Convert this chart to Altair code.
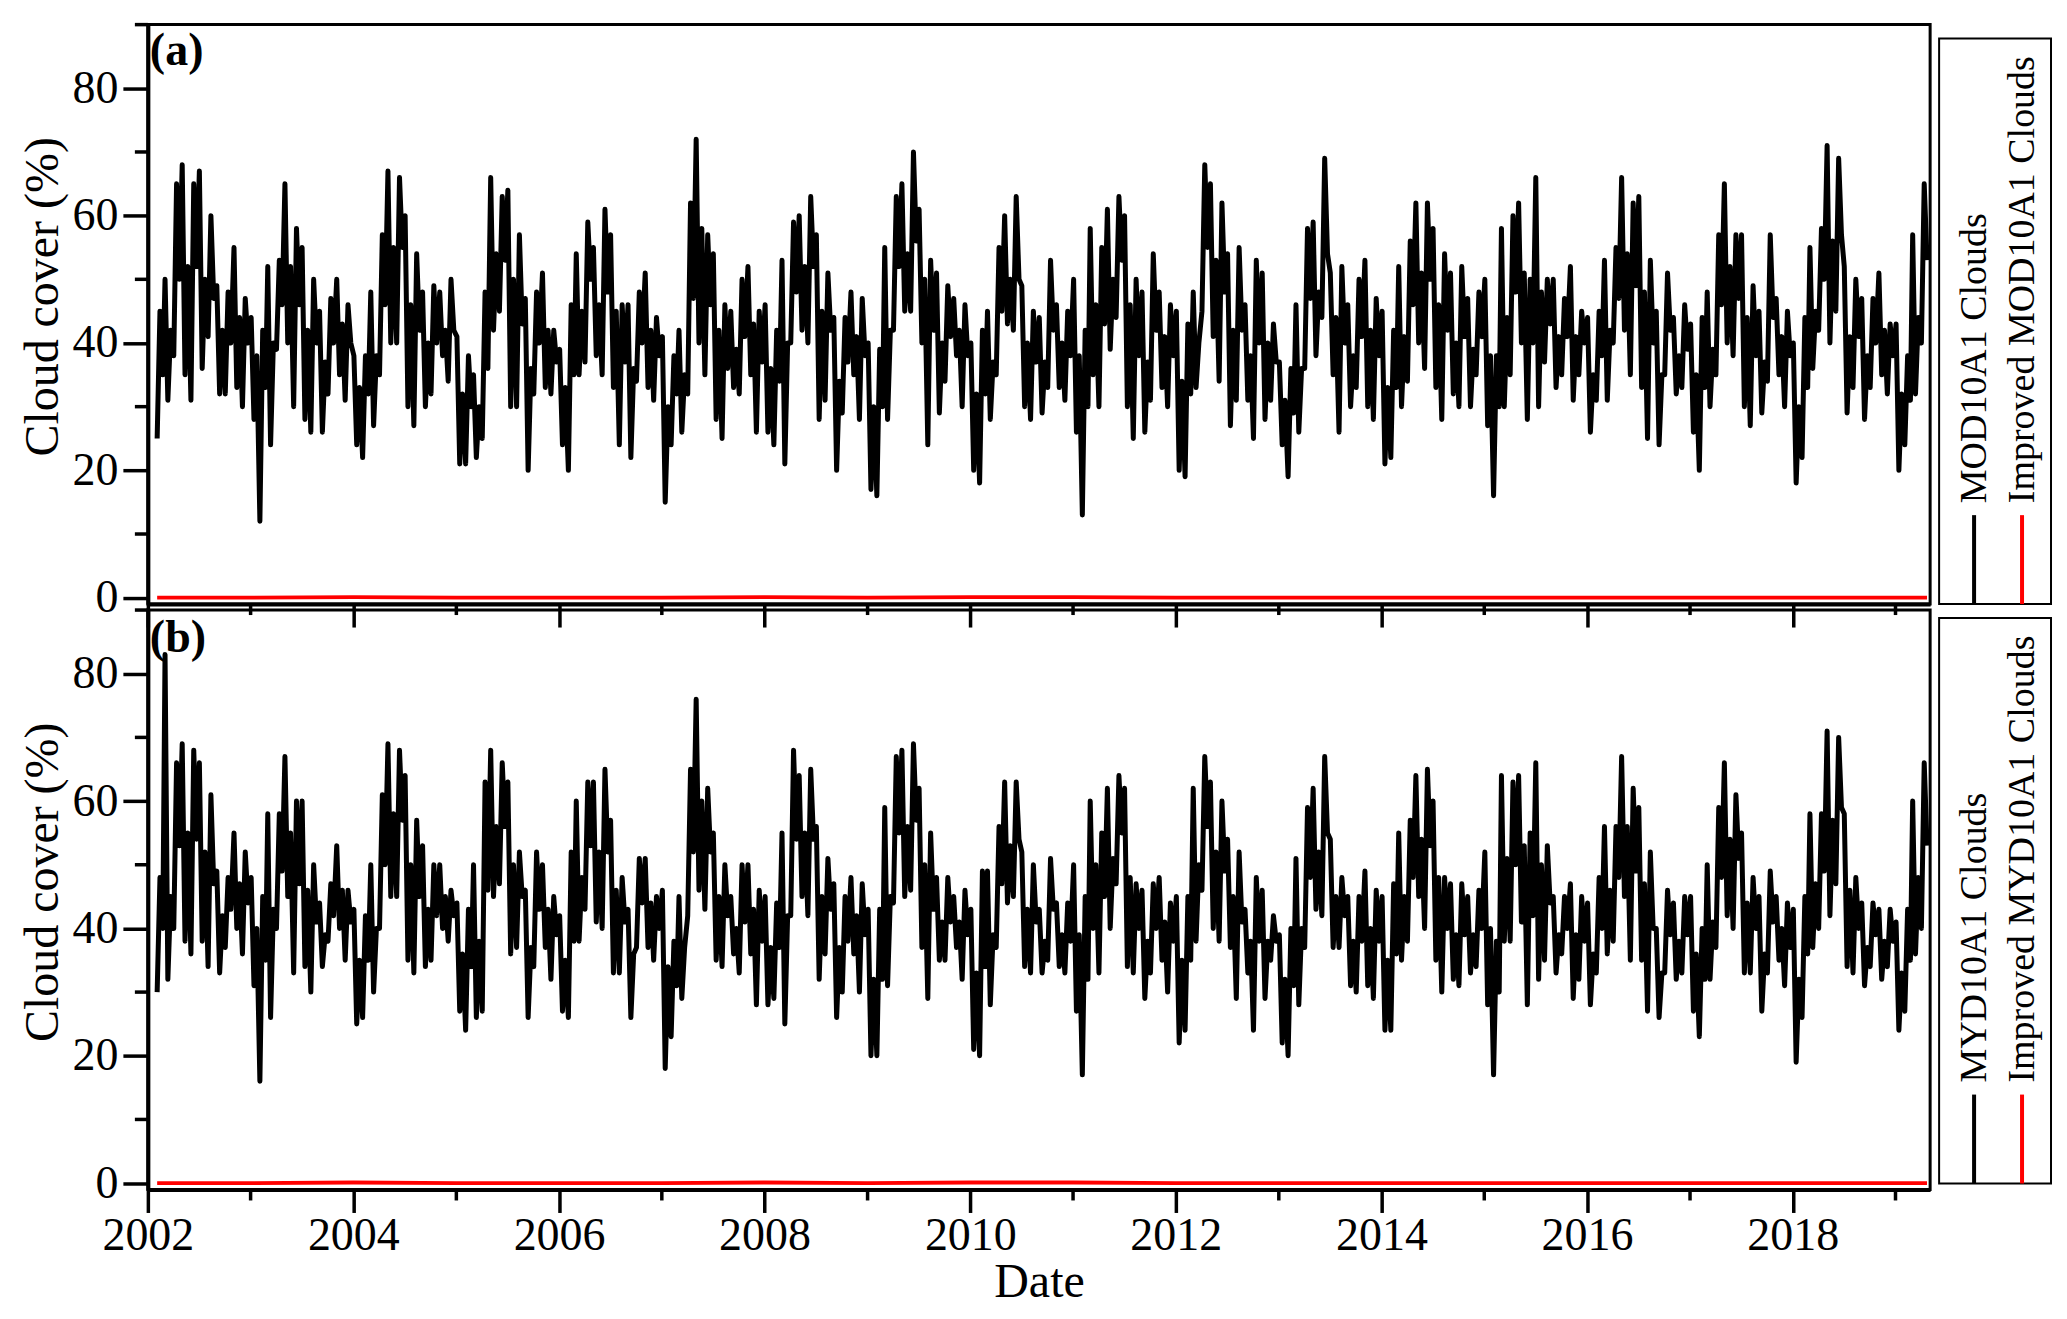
import altair as alt
import pandas as pd

FONT = "Liberation Serif"
W, H = 1784, 580

# ---------------- axis ticks ----------------
MAJOR_YEARS = list(range(2002, 2019, 2))
MINOR_YEARS = list(range(2003, 2020, 2))
Y_MAJOR = [0, 20, 40, 60, 80]
Y_MINOR = [10, 30, 50, 70, 90]

# months covered by the series (Feb 2002 .. Apr 2019)
MONTHS = pd.date_range("2002-02-01", "2019-04-01", freq="MS")

# ---------------- panel (a): MOD10A1 Clouds (%), per month: high, low and typical (core) level ----------------
MOD_HI = [
    45, 50, 65, 68, 65, 67, 60, 49, 48, 55, 47,            # 2002 Feb-Dec
    44, 42, 52, 53, 65, 58, 55, 50, 45, 47, 50, 46,        # 2003
    38, 38, 48, 57, 67, 66, 60, 54, 48, 49, 48, 50,        # 2004
    41, 38, 35, 48, 66, 63, 64, 57, 47, 48, 51, 42,        # 2005
    39, 46, 54, 59, 55, 61, 57, 46, 46, 48, 51, 44,        # 2006
    41, 38, 42, 62, 72, 57, 54, 46, 45, 50, 52, 45,        # 2007
    46, 42, 53, 59, 60, 63, 57, 51, 44, 44, 48, 47,        # 2008
    40, 39, 55, 63, 65, 70, 61, 53, 51, 49, 47, 46,        # 2009
    40, 42, 45, 55, 60, 63, 49, 45, 44, 53, 46, 45,        # 2010
    50, 42, 58, 55, 61, 63, 60, 50, 48, 54, 48, 46,        # 2011
    45, 43, 48, 68, 65, 62, 54, 55, 46, 53, 51, 43,        # 2012
    37, 36, 46, 58, 59, 69, 51, 52, 46, 50, 53, 47,        # 2013
    45, 42, 52, 56, 62, 62, 58, 54, 51, 52, 47, 48,        # 2014
    50, 38, 58, 60, 62, 50, 66, 50, 50, 47, 52, 45,        # 2015
    44, 45, 53, 55, 66, 62, 63, 53, 45, 51, 44, 46,        # 2016
    43, 44, 48, 57, 65, 57, 57, 49, 45, 57, 47, 45,        # 2017
    40, 44, 55, 58, 71, 69, 52, 50, 47, 47, 51, 43,        # 2018
    43, 38, 57, 65,                                        # 2019 Jan-Apr
]
MOD_LO = [
    25, 31, 38, 35, 31, 36, 41, 32, 32, 33, 30,
    28, 12, 24, 39, 40, 30, 28, 26, 26, 32, 35, 31,
    24, 22, 27, 35, 40, 40, 30, 27, 30, 32, 38, 34,
    21, 21, 22, 25, 42, 45, 30, 30, 20, 32, 33, 32,
    24, 20, 35, 37, 38, 35, 33, 24, 22, 34, 33, 31,
    15, 24, 26, 32, 40, 35, 28, 25, 33, 32, 35, 26,
    26, 24, 21, 40, 42, 40, 28, 31, 20, 29, 35, 28,
    17, 16, 28, 42, 45, 45, 40, 24, 29, 34, 38, 30,
    20, 18, 28, 35, 43, 42, 30, 28, 29, 33, 33, 31,
    26, 13, 35, 30, 39, 44, 30, 25, 26, 31, 33, 30,
    20, 19, 33, 45, 41, 34, 27, 31, 31, 25, 28, 31,
    24, 19, 26, 36, 38, 44, 35, 26, 30, 33, 30, 28,
    21, 22, 30, 34, 40, 36, 33, 28, 32, 30, 30, 35,
    27, 16, 30, 35, 40, 28, 30, 37, 33, 35, 31, 35,
    26, 31, 31, 40, 42, 35, 33, 25, 24, 35, 32, 33,
    26, 20, 30, 35, 40, 38, 30, 27, 29, 34, 35, 30,
    18, 22, 36, 42, 40, 45, 29, 33, 28, 33, 35, 32,
    20, 24, 32, 40,
]
MOD_CORE = [
    35, 42, 50, 52, 52, 50, 47, 42, 40, 44, 40,
    38, 33, 40, 46, 52, 46, 42, 40, 37, 40, 43, 40,
    33, 32, 38, 46, 55, 55, 46, 42, 40, 40, 42, 42,
    32, 30, 30, 36, 54, 53, 50, 43, 36, 40, 42, 37,
    33, 35, 45, 50, 46, 48, 45, 37, 36, 40, 42, 38,
    30, 32, 35, 47, 58, 46, 42, 36, 39, 41, 43, 37,
    36, 34, 40, 48, 52, 52, 45, 42, 34, 37, 41, 38,
    30, 30, 42, 52, 54, 56, 50, 42, 40, 41, 42, 38,
    32, 32, 37, 45, 50, 50, 40, 37, 37, 42, 40, 38,
    38, 30, 46, 43, 50, 53, 46, 38, 37, 42, 41, 38,
    34, 32, 40, 55, 53, 48, 42, 42, 38, 40, 40, 37,
    31, 29, 36, 47, 48, 54, 44, 40, 38, 41, 42, 38,
    33, 33, 41, 46, 51, 50, 46, 42, 40, 41, 39, 41,
    38, 30, 44, 48, 51, 40, 48, 43, 41, 41, 41, 40,
    35, 38, 42, 47, 54, 49, 48, 40, 35, 42, 38, 39,
    35, 33, 39, 46, 52, 47, 44, 38, 37, 44, 41, 38,
    30, 33, 45, 50, 56, 57, 41, 41, 38, 40, 42, 38,
    32, 31, 44, 53,
]

# ---------------- panel (b): MYD10A1 Clouds ----------------
MYD_HI = [
    48, 83, 66, 69, 68, 66, 61, 49, 48, 55, 52,            # 2002 Feb-Dec
    48, 45, 58, 58, 67, 60, 60, 50, 44, 47, 53, 46,        # 2003
    43, 42, 50, 61, 69, 68, 64, 57, 53, 50, 50, 46,        # 2004
    44, 43, 50, 63, 68, 66, 63, 52, 46, 52, 50, 45,        # 2005
    42, 52, 60, 63, 63, 65, 57, 48, 43, 51, 51, 45,        # 2006
    46, 38, 45, 65, 76, 62, 55, 50, 45, 50, 50, 46,        # 2007
    45, 44, 55, 68, 64, 65, 56, 51, 47, 45, 48, 47,        # 2008
    43, 43, 59, 67, 68, 69, 62, 55, 48, 48, 45, 46,        # 2009
    43, 49, 49, 56, 63, 63, 52, 50, 43, 51, 44, 44,        # 2010
    50, 45, 60, 55, 62, 64, 62, 47, 46, 47, 48, 44,        # 2011
    45, 45, 62, 67, 63, 60, 54, 52, 43, 48, 46, 42,        # 2012
    39, 40, 51, 59, 62, 67, 54, 48, 45, 45, 49, 46,        # 2013
    45, 47, 55, 57, 64, 65, 60, 48, 47, 47, 45, 46,        # 2014
    52, 38, 64, 63, 64, 55, 66, 53, 45, 45, 47, 45,        # 2015
    44, 48, 56, 56, 67, 62, 59, 52, 40, 46, 44, 45,        # 2016
    45, 40, 50, 59, 66, 61, 55, 48, 45, 49, 45, 44,        # 2017
    43, 45, 58, 58, 71, 70, 58, 48, 44, 44, 43, 43,        # 2018
    41, 43, 60, 66,                                        # 2019 Jan-Apr
]
MYD_LO = [
    30, 32, 40, 38, 36, 38, 34, 33, 37, 40, 36,
    31, 16, 26, 40, 45, 33, 34, 30, 34, 38, 40, 35,
    25, 26, 30, 40, 45, 45, 35, 33, 34, 35, 40, 38,
    27, 24, 26, 27, 45, 47, 36, 37, 26, 34, 37, 32,
    27, 26, 38, 43, 41, 40, 33, 33, 26, 37, 37, 35,
    18, 23, 29, 42, 46, 43, 35, 34, 36, 33, 36, 28,
    28, 29, 25, 42, 45, 42, 32, 36, 26, 30, 36, 30,
    20, 20, 31, 44, 45, 46, 37, 29, 35, 35, 37, 32,
    21, 20, 28, 37, 44, 45, 34, 33, 33, 35, 34, 33,
    27, 17, 40, 33, 40, 47, 34, 33, 29, 33, 35, 30,
    22, 24, 38, 46, 40, 38, 37, 29, 33, 24, 29, 35,
    22, 20, 28, 37, 43, 42, 37, 37, 31, 30, 31, 29,
    24, 24, 35, 38, 45, 40, 35, 30, 32, 31, 33, 34,
    28, 17, 38, 38, 41, 28, 32, 35, 33, 36, 29, 32,
    28, 33, 36, 38, 45, 35, 35, 27, 26, 33, 32, 33,
    27, 23, 32, 37, 42, 40, 33, 33, 27, 33, 35, 31,
    19, 26, 37, 40, 42, 47, 34, 33, 31, 34, 32, 34,
    24, 27, 36, 40,
]
MYD_CORE = [
    40, 45, 53, 55, 54, 52, 47, 42, 43, 47, 44,
    40, 35, 43, 49, 55, 47, 46, 41, 39, 42, 46, 41,
    35, 35, 40, 50, 58, 57, 50, 45, 43, 42, 45, 42,
    36, 34, 38, 46, 56, 56, 50, 45, 37, 43, 43, 39,
    35, 38, 48, 53, 52, 52, 46, 41, 36, 44, 44, 40,
    34, 31, 37, 52, 60, 52, 45, 42, 40, 41, 43, 38,
    37, 37, 42, 54, 55, 54, 45, 43, 37, 38, 42, 39,
    32, 32, 45, 55, 56, 57, 50, 43, 41, 41, 41, 39,
    33, 34, 39, 47, 53, 54, 43, 41, 38, 43, 39, 38,
    39, 32, 50, 45, 51, 55, 48, 40, 38, 40, 41, 38,
    35, 35, 50, 56, 52, 49, 45, 41, 38, 38, 38, 38,
    32, 31, 40, 48, 52, 55, 45, 42, 38, 38, 40, 38,
    35, 36, 45, 48, 54, 53, 48, 40, 39, 39, 39, 40,
    40, 30, 51, 50, 53, 42, 50, 44, 39, 40, 39, 38,
    36, 40, 46, 48, 56, 49, 47, 40, 33, 39, 38, 39,
    36, 32, 41, 48, 54, 51, 44, 40, 36, 41, 40, 37,
    32, 36, 47, 49, 57, 59, 46, 40, 37, 39, 38, 38,
    33, 35, 48, 53,
]

# ---------------- improved (red) series: flat at ~0 ----------------
IMPROVED_DATES = ["2002-02-03"] + [f"{y}-01-01" for y in range(2003, 2020)] + ["2019-04-23"]
IMPROVED_MOD = [0.0, 0.0, 0.1, 0.0, 0.0, 0.0, 0.1, 0.0, 0.1, 0.1, 0.0, 0.0, 0.0, 0.0, 0.0, 0.0, 0.0, 0.0, 0.0]
IMPROVED_MYD = [0.0, 0.0, 0.1, 0.0, 0.0, 0.0, 0.1, 0.0, 0.1, 0.1, 0.0, 0.0, 0.0, 0.0, 0.0, 0.0, 0.0, 0.0, 0.0]

LEGEND_A = ["MOD10A1 Clouds", "Improved MOD10A1 Clouds"]
LEGEND_B = ["MYD10A1 Clouds", "Improved MYD10A1 Clouds"]
SERIES_COLORS = ["black", "#ff0000"]

assert len(MOD_HI) == len(MOD_LO) == len(MOD_CORE) == len(MONTHS)
assert len(MYD_HI) == len(MYD_LO) == len(MYD_CORE) == len(MONTHS)


def series_frame(hi, lo, core):
    """Three readings per month; the order of high/low alternates month to month."""
    rows = []
    for i, (m, h, l, c) in enumerate(zip(MONTHS, hi, lo, core)):
        first, second = (l, h) if i % 2 == 0 else (h, l)
        rows.append({"date": m + pd.Timedelta(days=2), "value": first})
        rows.append({"date": m + pd.Timedelta(days=12), "value": second})
        rows.append({"date": m + pd.Timedelta(days=22), "value": c})
    return pd.DataFrame(rows)


x_scale = alt.Scale(domain=[alt.DateTime(year=2002, month=1, date=1),
                            alt.DateTime(year=2019, month=5, date=4)], nice=False)
y_scale = alt.Scale(domain=[-1, 90], nice=False, zero=False)

major_x_values = [alt.DateTime(year=y, month=1, date=1) for y in MAJOR_YEARS]


def make_panel(hi, lo, core, improved, tag, legend, show_x, box_top, label_y):
    df = series_frame(hi, lo, core)
    imp = pd.DataFrame({"date": pd.to_datetime(IMPROVED_DATES), "value": improved})

    if show_x:
        xaxis = alt.Axis(values=major_x_values, format="%Y", tickSize=23, tickWidth=3.5,
                         domainWidth=4, labelFontSize=46, labelPadding=1, labelFlush=False,
                         labelOverlap=False, title="Date", titleFontSize=48, titlePadding=0,
                         grid=False)
    else:
        xaxis = alt.Axis(values=major_x_values, format="%Y", tickSize=23, tickWidth=3.5,
                         domainWidth=4, labels=False, title=None, grid=False)
    yaxis = alt.Axis(values=Y_MAJOR, tickSize=25, tickWidth=3.5, domainWidth=4,
                     labelFontSize=46, labelPadding=5, format="d",
                     title="Cloud cover (%)", titleFontSize=48, titlePadding=4,
                     titleY=272, grid=False)

    X = alt.X("date:T", scale=x_scale, axis=xaxis)
    Y = alt.Y("value:Q", scale=y_scale, axis=yaxis)

    black = alt.Chart(df).mark_line(color="black", strokeWidth=5, strokeJoin="round").encode(x=X, y=Y)
    red = alt.Chart(imp).mark_line(color=SERIES_COLORS[1], strokeWidth=3.8).encode(x=X, y=Y)

    minor_x = alt.Chart(pd.DataFrame({"date": pd.to_datetime([f"{y}-01-01" for y in MINOR_YEARS])})).mark_rule(
        color="black", strokeWidth=3.5).encode(
        x=X, y=alt.value(H), y2=alt.value(H + 11),
    )
    minor_y = alt.Chart(pd.DataFrame({"value": Y_MINOR})).mark_rule(color="black", strokeWidth=3.5).encode(
        y=Y, x=alt.value(-13), x2=alt.value(0),
    )

    tag_text = alt.Chart(pd.DataFrame({"t": [tag]})).mark_text(
        font=FONT, fontSize=46, fontWeight="bold", align="left", baseline="alphabetic", color="black"
    ).encode(text="t:N", x=alt.value(2), y=alt.value(label_y))

    box_bottom = box_top + 566
    box = alt.Chart(pd.DataFrame({"k": [0]})).mark_rect(fill="white", stroke="black", strokeWidth=2).encode(
        x=alt.value(1793), x2=alt.value(1905), y=alt.value(box_top), y2=alt.value(box_bottom)
    )
    leg_layers = []
    for i, (name, col) in enumerate(zip(legend, SERIES_COLORS)):
        xpos = 1828 + 48 * i
        leg_layers.append(
            alt.Chart(pd.DataFrame({"n": [name]})).mark_rule(color=col, strokeWidth=4).encode(
                x=alt.value(xpos), y=alt.value(box_bottom - 89), y2=alt.value(box_bottom))
        )
        leg_layers.append(
            alt.Chart(pd.DataFrame({"n": [name]})).mark_text(
                font=FONT, fontSize=38, angle=270, align="left", baseline="middle", color="black"
            ).encode(text="n:N", x=alt.value(xpos + 1), y=alt.value(box_bottom - 101))
        )

    return alt.layer(black, red, minor_x, minor_y, tag_text, box, *leg_layers).properties(width=W, height=H)


panel_a = make_panel(MOD_HI, MOD_LO, MOD_CORE, IMPROVED_MOD, "(a)", LEGEND_A, False, 14, 40)
panel_b = make_panel(MYD_HI, MYD_LO, MYD_CORE, IMPROVED_MYD, "(b)", LEGEND_B, True, 8, 42)

chart = alt.vconcat(panel_a, panel_b, spacing=6, bounds="flush").properties(
    padding={"left": 10, "top": 12, "right": 5, "bottom": 5}
).configure_view(
    stroke="black", strokeWidth=3
).configure_axis(
    domainColor="black", tickColor="black", labelColor="black", titleColor="black",
    labelFont=FONT, titleFont=FONT, titleFontWeight="normal", grid=False
)

chart.save("out.html", embed_options={"renderer": "svg", "actions": False})
